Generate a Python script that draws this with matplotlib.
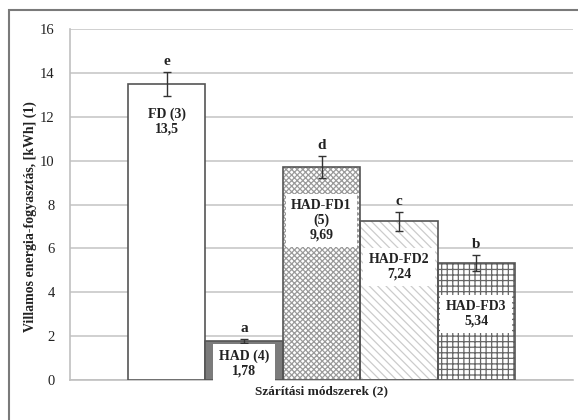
import matplotlib
matplotlib.use("Agg")
import matplotlib.pyplot as plt
from matplotlib.patches import Rectangle

plt.rcParams['font.family'] = ['Liberation Serif', 'DejaVu Serif']
plt.rcParams['hatch.linewidth'] = 0.9

categories = ["FD (3)", "HAD (4)", "HAD-FD1\n(5)", "HAD-FD2", "HAD-FD3"]
values = [13.5, 1.78, 9.69, 7.24, 5.34]
value_labels = ["13,5", "1,78", "9,69", "7,24", "5,34"]
errors = [0.55, 0.1, 0.5, 0.43, 0.36]
letters = ["e", "a", "d", "c", "b"]
yticks = [0, 2, 4, 6, 8, 10, 12, 14, 16]

faces = ["white", "#7b7b7b", "white", "white", "white"]
hatches = [None, None, "xxxxxx", "\\\\\\\\", "+++"]
hatch_colors = [None, None, "#9a9a9a", "#cccccc", "#666666"]
label_offsets_px = [-38, -23, -53, -46, -51]
label_boxes = [False, True, True, True, True]

W, H = 578, 420
fig = plt.figure(figsize=(W / 100, H / 100), dpi=100)
fig.patch.set_facecolor("white")
fig.patches.append(Rectangle((9 / W, -0.1), 1.2, (H - 10) / H + 0.1,
                             transform=fig.transFigure, fill=False,
                             edgecolor="#7a7a7a", linewidth=1.5))

ax = fig.add_axes([70 / W, (H - 380) / H, (573 - 70) / W, (380 - 29) / H])
x = list(range(len(values)))

for i, v in enumerate(values):
    if hatches[i]:
        ax.bar(i, v, width=1.0, color="white", hatch=hatches[i],
               edgecolor=hatch_colors[i], linewidth=0, zorder=2)
        ax.bar(i, v, width=1.0, fill=False, edgecolor="#555555",
               linewidth=1.2, zorder=3)
    else:
        ax.bar(i, v, width=1.0, color=faces[i], edgecolor="#555555",
               linewidth=1.2, zorder=3)

ax.errorbar(x, values, yerr=errors, fmt="none", ecolor="#333333",
            elinewidth=1.0, capsize=3, capthick=1.0, zorder=5)

for i, v in enumerate(values):
    ax.annotate(letters[i], (i, v + errors[i]), xytext=(0, 3),
                textcoords="offset points", ha="center", va="bottom",
                fontsize=11, fontweight="bold", color="#222222", zorder=6)
    bbox = dict(facecolor="white", edgecolor="none", pad=4) if label_boxes[i] else None
    ax.annotate(categories[i] + "\n" + value_labels[i], (i, v),
                xytext=(0, label_offsets_px[i]), textcoords="offset pixels",
                ha="center", va="center", fontsize=10, fontweight="bold",
                color="#222222", linespacing=1.15, bbox=bbox, zorder=6)

ax.set_xlim(-1.25, 5.25)
ax.set_ylim(0, 16)
ax.set_yticks(yticks)
ax.set_yticklabels([str(t) for t in yticks], fontsize=10.5, color="#222222")
ax.set_xticks([])
ax.tick_params(axis="y", length=0, pad=11)
ax.yaxis.grid(True, color="#c8c8c8", linewidth=1.2, zorder=0)
ax.set_axisbelow(True)
for s in ["top", "right"]:
    ax.spines[s].set_visible(False)
ax.spines["left"].set_color("#c0c0c0")
ax.spines["left"].set_linewidth(1.2)
ax.spines["bottom"].set_color("#c0c0c0")
ax.spines["bottom"].set_linewidth(1.2)

ax.set_ylabel("Villamos energia-fogyasztás, [kWh] (1)", fontsize=10,
              fontweight="bold", color="#222222")
ax.yaxis.set_label_coords(-0.065, 0.465)
ax.set_xlabel("Szárítási módszerek (2)", fontsize=9.5, fontweight="bold",
              color="#222222", labelpad=4)

fig.savefig("out.png", dpi=100, facecolor="white")
